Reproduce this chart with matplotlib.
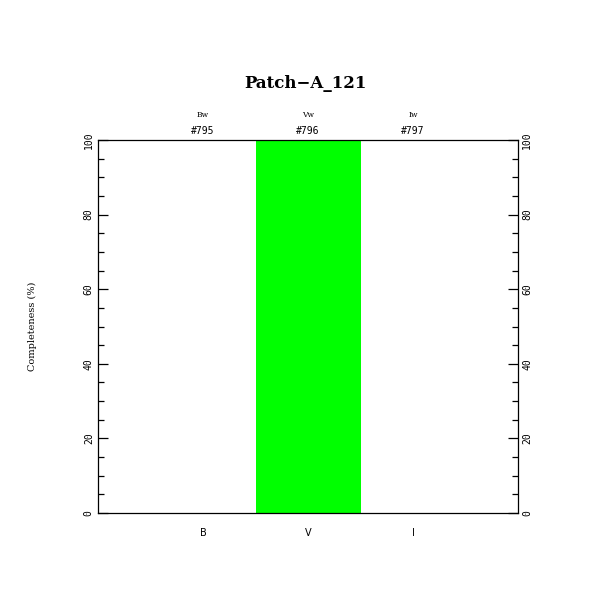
import matplotlib
matplotlib.use("Agg")
import matplotlib.pyplot as plt
from matplotlib.ticker import MultipleLocator

# data
bands = ['B', 'V', 'I']
filters = ['Bw', 'Vw', 'Iw']
frames = ['#795', '#796', '#797']
completeness = [0, 100, 0]
positions = [1, 2, 3]

fig = plt.figure(figsize=(6.11, 6.11), dpi=100)
ax = fig.add_axes([98 / 611, 1 - 513 / 611, 420 / 611, 373 / 611])

ax.bar(positions, completeness, width=1.0, color='#00ff00', edgecolor='none')
ax.set_xlim(0, 4)
ax.set_ylim(0, 100)

for sp in ax.spines.values():
    sp.set_linewidth(0.9)

ax.set_xticks([])
ax.yaxis.set_major_locator(MultipleLocator(20))
ax.yaxis.set_minor_locator(MultipleLocator(5))
ax.tick_params(axis='y', which='both', direction='in', left=True, right=True,
               labelleft=True, labelright=True, width=0.9, pad=3)
ax.tick_params(axis='y', which='major', length=7)
ax.tick_params(axis='y', which='minor', length=4)
for lab in ax.get_yticklabels():
    lab.set_rotation(90)
    lab.set_va('center')
    lab.set_fontsize(7)
    lab.set_family('DejaVu Sans Mono')

# category labels below and above the frame
for x, b, f, n in zip(positions, bands, filters, frames):
    ax.text(x, -5.4, b, ha='center', va='center', fontsize=7)
    ax.text(x, 102.4, n, ha='center', va='center', fontsize=7,
            family='DejaVu Sans Mono')
    ax.text(x, 106.7, f, ha='center', va='center', fontsize=5.5,
            family='DejaVu Serif')

ax.set_ylabel('Completeness (%)', fontsize=7, family='DejaVu Serif')
ax.yaxis.set_label_coords(-61 / 420, 0.5)
fig.text(0.5, 1 - 84 / 611, 'Patch\u2212A_121', ha='center', va='center',
         fontsize=12, fontweight='semibold', family='DejaVu Serif')

fig.savefig('out.png', dpi=100, facecolor='white')
